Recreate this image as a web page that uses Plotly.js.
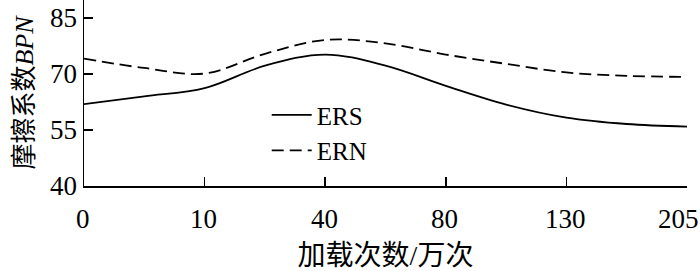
<!DOCTYPE html>
<html>
<head>
<meta charset="utf-8">
<script src="https://cdn.plot.ly/plotly-3.0.1.min.js"></script>
<style>html,body{margin:0;padding:0;background:#fff;}#chart{width:700px;height:271px;}</style>
</head>
<body>
<div id="chart"></div>
<script>
// categorical loading counts (equally spaced on the axis)
const tickLabels = ["0", "10", "40", "80", "130", "205"];
const tickPos = [0, 1, 2, 3, 4, 5];
// sample positions along the category axis (read at ticks and half-way between them)
const samplePos = [0, 0.5, 1, 1.5, 2, 2.5, 3, 3.5, 4, 4.5, 5];
const ersValues = [61.9, 64.0, 66.2, 72.2, 75.2, 72.2, 66.8, 61.8, 58.3, 56.6, 55.9];
const ernValues = [74.1, 71.6, 70.1, 75.4, 79.1, 78.2, 75.2, 72.7, 70.4, 69.5, 69.2];
const seriesNames = ["ERS", "ERN"];
const yTicks = [40, 55, 70, 85];

const FONT = "Liberation Serif";
const CJKFONT = "Liberation Serif, Noto Sans CJK SC";

const traces = [
  {x: samplePos, y: ersValues, name: seriesNames[0], mode: "lines",
   line: {color: "#000", width: 1.8, shape: "spline", smoothing: 1.0}},
  {x: samplePos, y: ernValues, name: seriesNames[1], mode: "lines",
   line: {color: "#000", width: 1.8, shape: "spline", smoothing: 1.0, dash: "12px,6px"}}
];

// x tick labels as annotations so the last one can sit inside the picture
const xLabelAnn = tickLabels.map((t, i) => ({
  text: t, x: tickPos[i], xref: "x", y: 0, yref: "paper",
  yanchor: "top", xanchor: "center", yshift: -16,
  xshift: i === tickLabels.length - 1 ? -9 : -1,
  showarrow: false, font: {family: FONT, size: 27, color: "#000"}
}));

const layout = {
  width: 700, height: 271,
  margin: {l: 84, r: 13, t: 0, b: 85, pad: 0},
  paper_bgcolor: "#fff", plot_bgcolor: "#fff",
  font: {family: FONT, size: 27, color: "#000"},
  showlegend: true,
  legend: {x: 0.303, y: 0.505, xanchor: "left", yanchor: "top", itemwidth: 40,
           bgcolor: "rgba(0,0,0,0)", font: {family: FONT, size: 25, color: "#000"},
           tracegroupgap: 0},
  annotations: xLabelAnn,
  xaxis: {
    range: [0, 5], tickmode: "array", tickvals: tickPos, ticktext: tickLabels,
    showticklabels: false,
    ticks: "inside", ticklen: 9, tickwidth: 1.5, tickcolor: "#000",
    showline: true, linecolor: "#000", linewidth: 1.5, mirror: false,
    showgrid: false, zeroline: false,
    title: {text: "加载次数/万次", font: {family: CJKFONT, size: 28, color: "#000"}, standoff: 60}
  },
  yaxis: {
    range: [40, 89.8], tickmode: "array", tickvals: yTicks, ticktext: yTicks.map(String),
    ticks: "inside", ticklen: 9, tickwidth: 1.5, tickcolor: "#000",
    showline: true, linecolor: "#000", linewidth: 1.5,
    showgrid: false, zeroline: false,
    tickfont: {family: FONT, size: 27, color: "#000"},
    title: {text: "摩擦系数<i>BPN</i>", font: {family: CJKFONT, size: 26, color: "#000"}, standoff: 9}
  }
};

Plotly.newPlot("chart", traces, layout, {displayModeBar: false, staticPlot: true});
</script>
</body>
</html>
